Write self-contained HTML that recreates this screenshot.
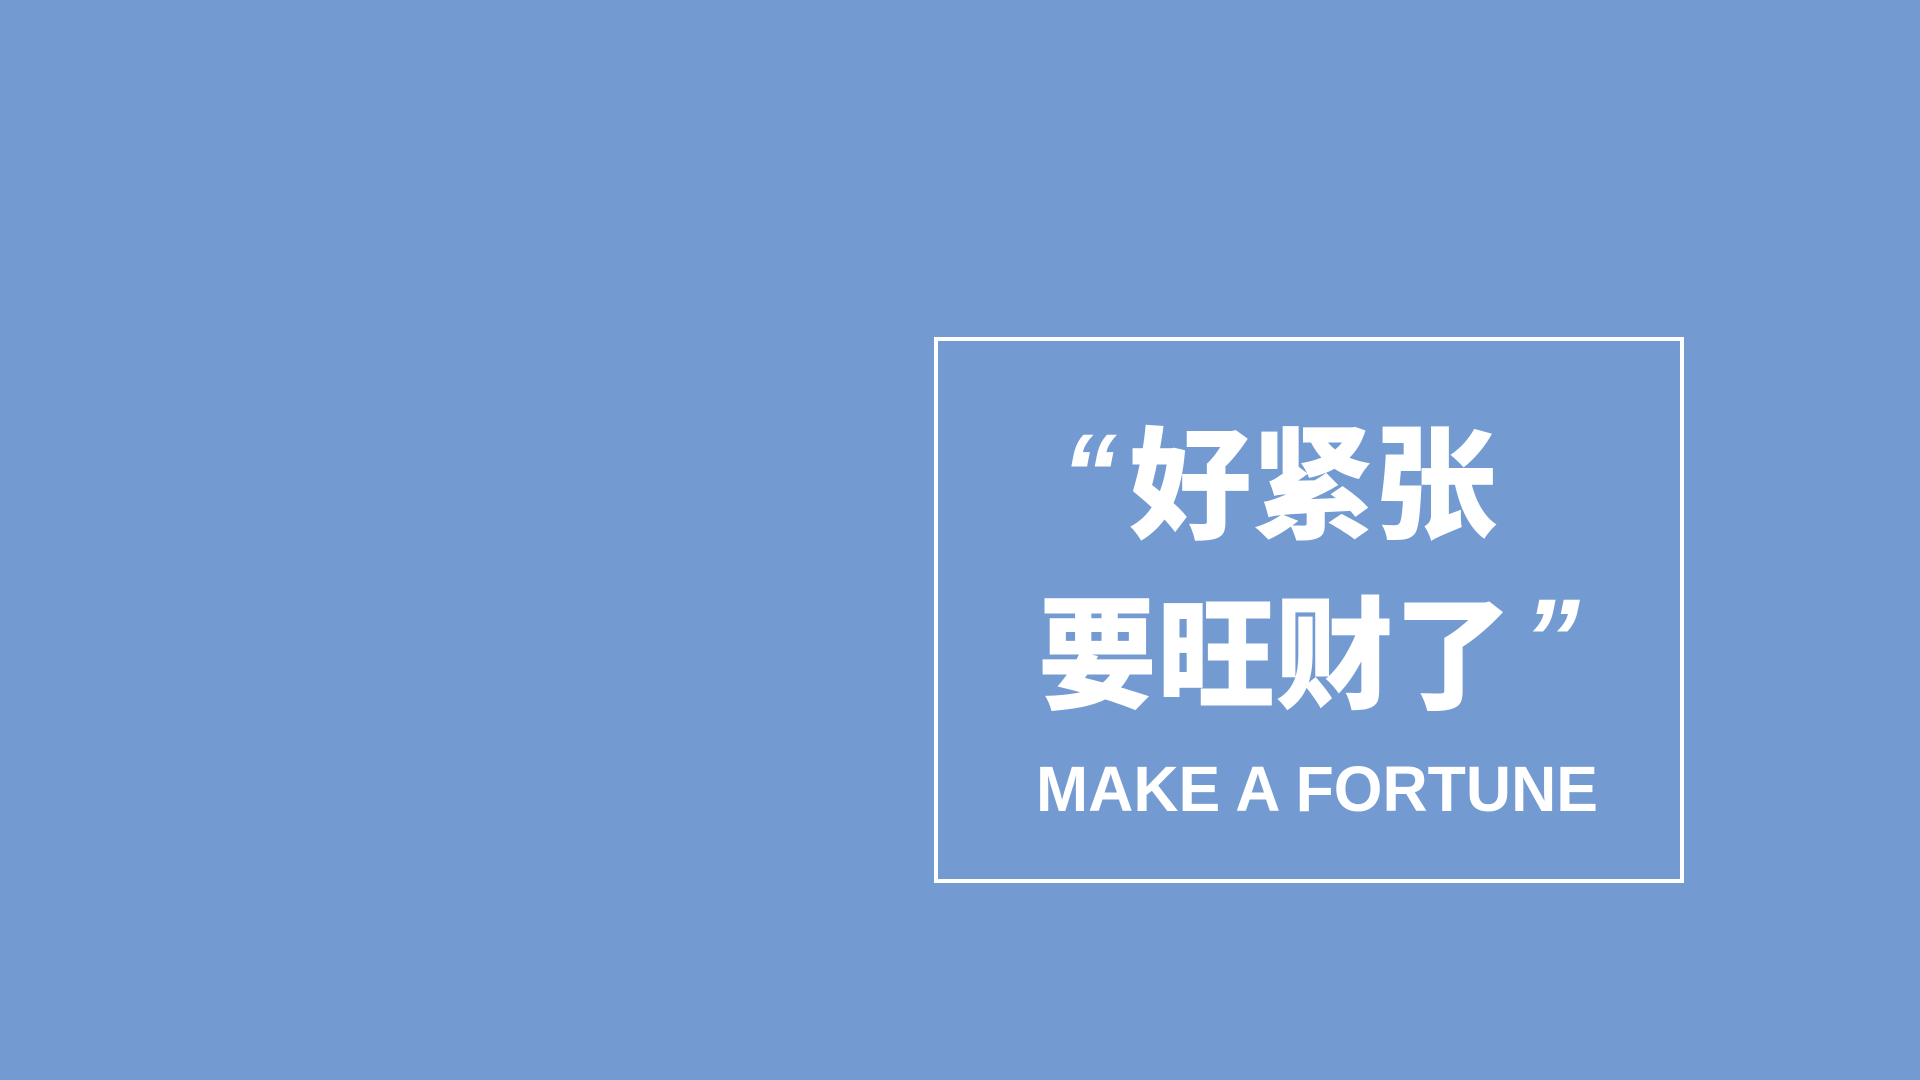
<!DOCTYPE html>
<html>
<head>
<meta charset="utf-8">
<style>
  html,body{margin:0;padding:0;}
  body{width:1920px;height:1080px;background:#739bd2;overflow:hidden;position:relative;}
  svg{position:absolute;left:0;top:0;}
</style>
</head>
<body>
<svg width="1920" height="1080">
  <rect x="936" y="339" width="746" height="542" fill="none" stroke="#ffffff" stroke-width="4"/>
  <text x="1061" y="512" font-family="'Liberation Sans',sans-serif" font-weight="bold" font-style="italic" font-size="112" fill="#ffffff" textLength="56" lengthAdjust="spacingAndGlyphs">“</text>
  <text x="1129" y="529" font-family="'Noto Sans CJK SC','WenQuanYi Zen Hei',sans-serif" font-weight="900" font-size="122" fill="#ffffff" textLength="368" lengthAdjust="spacingAndGlyphs">好紧张</text>
  <text x="1038" y="699" font-family="'Noto Sans CJK SC','WenQuanYi Zen Hei',sans-serif" font-weight="900" font-size="122" fill="#ffffff" textLength="474" lengthAdjust="spacingAndGlyphs">要旺财了</text>
  <text x="1522" y="677" font-family="'Liberation Sans',sans-serif" font-weight="bold" font-style="italic" font-size="112" fill="#ffffff" textLength="58" lengthAdjust="spacingAndGlyphs">”</text>
  <text x="1036" y="811" font-family="'Liberation Sans',sans-serif" font-weight="bold" font-size="64" fill="#ffffff" textLength="562" lengthAdjust="spacingAndGlyphs">MAKE A FORTUNE</text>
</svg>
</body>
</html>
